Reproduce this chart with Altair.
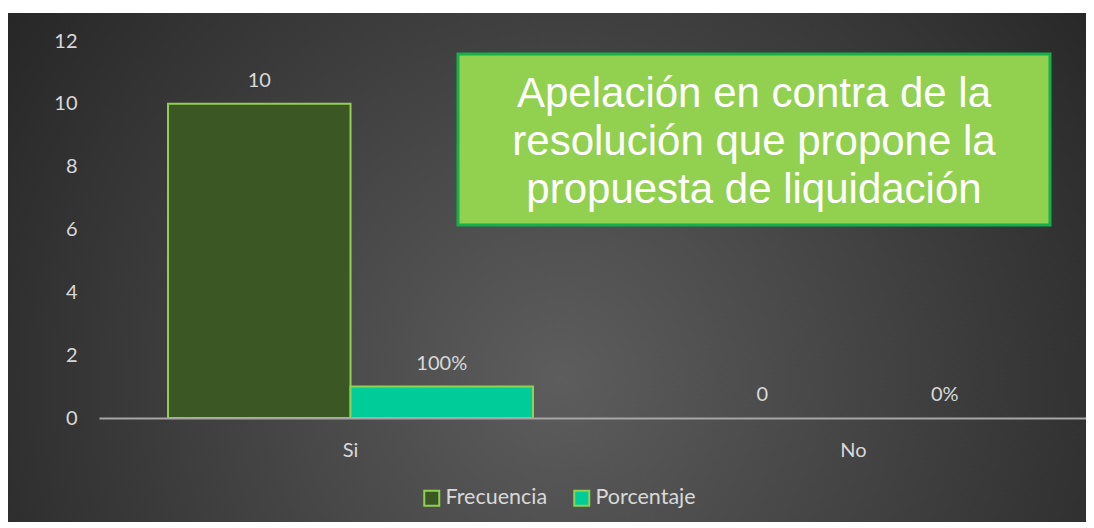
import altair as alt
import pandas as pd

# ---- data ----
categorias = ["Si", "No"]
series = ["Frecuencia", "Porcentaje"]
frecuencia = [10, 0]
porcentaje = [1.0, 0.0]          # plotted as fraction, labelled as percent
etiquetas_frec = ["10", "0"]
etiquetas_porc = ["100%", "0%"]
titulo = ["Apelación en contra de la", "resolución que propone la", "propuesta de liquidación"]
colores = ["#3b5724", "#00cc99"]

rows = []
for i, c in enumerate(categorias):
    rows.append({"cat": c, "serie": series[0], "valor": frecuencia[i], "label": etiquetas_frec[i]})
    rows.append({"cat": c, "serie": series[1], "valor": porcentaje[i], "label": etiquetas_porc[i]})
df = pd.DataFrame(rows)

W, H = 987, 377
FONT = "Lato"
TXT = "#d9d9d9"

xscale = alt.Scale(domain=categorias, paddingInner=0.2744, paddingOuter=0.1183, align=0.58)
xoff = alt.XOffset("serie:N", scale=alt.Scale(domain=series, paddingInner=0, paddingOuter=0))
yscale = alt.Scale(domain=[0, 12], nice=False)

one = pd.DataFrame({"a": [0]})

bg = alt.Chart(one).mark_rect(
    fill=alt.Gradient(
        gradient="radial",
        stops=[alt.GradientStop(color="#5d5d5d", offset=0),
               alt.GradientStop(color="#262626", offset=1)],
        x1=0.51, y1=0.6, r1=0, x2=0.51, y2=0.6, r2=0.62,
    )
).encode(x=alt.value(-91), x2=alt.value(W + 4), y=alt.value(-28), y2=alt.value(H + 110))

bars = alt.Chart(df).mark_bar(stroke="#92d050", strokeWidth=2).encode(
    x=alt.X("cat:N", scale=xscale, sort=categorias,
            axis=alt.Axis(title=None, labelAngle=0, ticks=False, domainColor="#a6a6a6",
                          domainWidth=2, labelColor=TXT, labelFont=FONT, labelFontSize=20,
                          labelPadding=22, grid=False, zindex=1)),
    xOffset=xoff,
    y=alt.Y("valor:Q", scale=yscale,
            axis=alt.Axis(title=None, values=[0, 2, 4, 6, 8, 10, 12], grid=False, domain=False,
                          ticks=False, labelColor=TXT, labelFont=FONT, labelFontSize=20,
                          labelPadding=22, zindex=1)),
    fill=alt.Fill("serie:N", scale=alt.Scale(domain=series, range=colores),
                  legend=alt.Legend(title=None, orient="none", legendX=322, legendY=446,
                                    direction="horizontal", symbolType="square",
                                    symbolSize=225, symbolStrokeColor="#92d050",
                                    symbolStrokeWidth=2, labelColor=TXT, labelFont=FONT,
                                    labelFontSize=21.5, labelOffset=3, columnPadding=22)),
    strokeOpacity=alt.condition("datum.valor > 0", alt.value(1), alt.value(0)),
)

labels = alt.Chart(df).mark_text(font=FONT, fontSize=20, color=TXT, baseline="alphabetic", dy=-17).encode(
    x=alt.X("cat:N", scale=xscale, sort=categorias),
    xOffset=xoff,
    y=alt.Y("valor:Q", scale=yscale),
    text="label:N",
)

box = alt.Chart(one).mark_rect(fill="#92d050", stroke="#14b04a", strokeWidth=3).encode(
    x=alt.value(359), x2=alt.value(951), y=alt.value(13), y2=alt.value(184)
)

title_text = alt.Chart(one).mark_text(
    text=titulo, font="Liberation Sans", fontSize=42, lineHeight=48, color="white",
    align="center", baseline="alphabetic"
).encode(x=alt.value(655), y=alt.value(66))

chart = alt.layer(bg, bars, labels, box, title_text).properties(
    width=W, height=H, autosize="none",
    padding={"left": 91, "top": 33, "right": 0, "bottom": 104},
).configure(background="white").configure_view(stroke=None)

chart.save("out.html", embed_options={"renderer": "svg", "actions": False})
